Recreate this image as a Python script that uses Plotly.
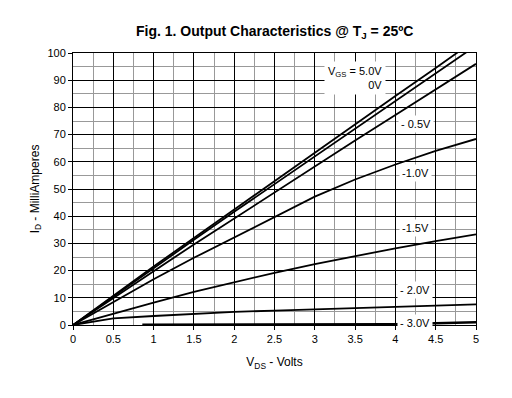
import plotly.graph_objects as go

vds = [0, 0.5, 1.0, 1.5, 2.0, 2.5, 3.0, 3.5, 4.0, 4.5, 5.0]
id_5v0 = [0, 10.8, 21.5, 32.0, 42.5, 53.0, 63.5, 74.0, 84.2, 94.5, 105.0]
id_0v = [0, 10.5, 21.0, 31.3, 41.6, 51.8, 62.0, 72.2, 82.4, 92.5, 102.7]
id_m0v5 = [0, 10.0, 19.8, 29.6, 39.2, 48.8, 58.3, 67.8, 77.2, 86.6, 96.0]
id_m1v0 = [0, 8.5, 16.8, 24.7, 32.2, 39.8, 47.2, 53.5, 59.0, 64.0, 68.4]
id_m1v5 = [0, 4.2, 8.2, 12.2, 15.8, 19.2, 22.4, 25.4, 28.2, 30.8, 33.3]
id_m2v0 = [0, 2.4, 3.3, 4.1, 4.8, 5.3, 5.7, 6.1, 6.6, 7.1, 7.6]
vds_m3v0 = [0.86, 1.5, 2.0, 2.5, 3.0, 3.5, 4.0, 4.5, 5.0]
id_m3v0 = [0.1, 0.1, 0.15, 0.15, 0.2, 0.2, 0.25, 0.6, 1.0]

x_ticks = [0, 0.5, 1, 1.5, 2, 2.5, 3, 3.5, 4, 4.5, 5]
x_ticklabels = ["0", "0.5", "1", "1.5", "2", "2.5", "3", "3.5", "4", "4.5", "5"]
y_ticks = list(range(0, 101, 10))

fig = go.Figure()
for ys in [id_5v0, id_0v, id_m0v5, id_m1v0, id_m1v5, id_m2v0]:
    fig.add_trace(go.Scatter(x=vds, y=ys, mode="lines",
                             line=dict(color="black", width=1.8), showlegend=False))
fig.add_trace(go.Scatter(x=vds_m3v0, y=id_m3v0, mode="lines",
                         line=dict(color="black", width=2.5), showlegend=False))

font = dict(family="Liberation Sans, Arial, sans-serif", color="black")
fig.add_annotation(x=3.88, y=90.8, text="V<sub>GS</sub> = 5.0V<br>0V", align="right",
                   showarrow=False, bgcolor="white", xanchor="right", yanchor="middle",
                   font=dict(size=11, **font), borderpad=3)
labels = [
    (4.25, 73.9, "- 0.5V"),
    (4.25, 55.9, "-1.0V"),
    (4.25, 35.7, "-1.5V"),
    (4.24, 12.9, "- 2.0V"),
    (4.24, 0.7, "- 3.0V"),
]
for x, y, t in labels:
    fig.add_annotation(x=x, y=y, text=t, showarrow=False, bgcolor="white",
                       xanchor="center", yanchor="middle",
                       font=dict(size=11, **font), borderpad=2)

axis_common = dict(showline=True, linecolor="black", linewidth=1, mirror=True,
                   ticks="outside", ticklen=4, tickcolor="black",
                   showgrid=True, gridcolor="black", gridwidth=1,
                   zeroline=False, tickfont=dict(size=11, **font))
fig.update_xaxes(range=[0, 5], tickvals=x_ticks, ticktext=x_ticklabels,
                 minor=dict(dtick=0.25, showgrid=True, gridcolor="#999999", gridwidth=1),
                 title=dict(text="V<sub>DS</sub> - Volts", font=dict(size=12, **font), standoff=13),
                 **axis_common)
fig.update_yaxes(range=[0, 100], tickvals=y_ticks,
                 minor=dict(dtick=5, showgrid=True, gridcolor="#999999", gridwidth=1),
                 title=dict(text="I<sub>D</sub> - MilliAmperes", font=dict(size=12, **font), standoff=5),
                 **axis_common)
fig.update_layout(
    width=512, height=398,
    margin=dict(l=65, r=44, t=45, b=81),
    paper_bgcolor="white", plot_bgcolor="white",
    title=dict(text="<b>Fig. 1. Output Characteristics @ T<sub>J</sub> = 25ºC</b>",
               x=0.521, xanchor="center", y=0.942, yanchor="middle",
               font=dict(size=14, **font)),
)
fig.write_html("out.html")
